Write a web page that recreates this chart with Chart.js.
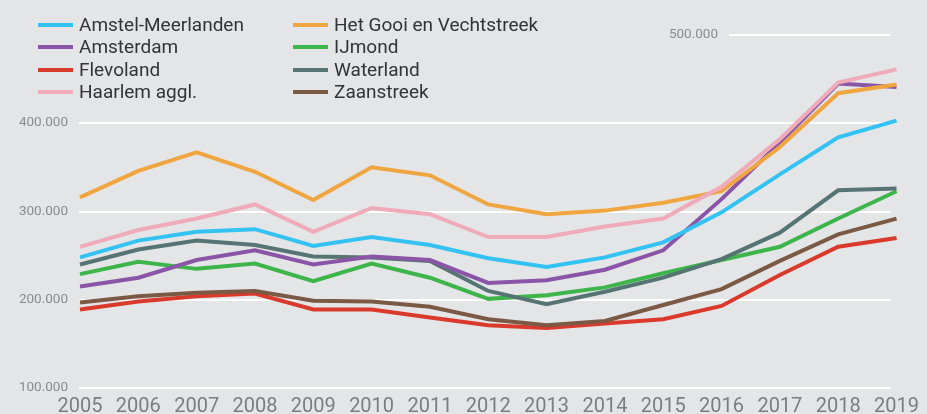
<!DOCTYPE html>
<html>
<head>
<meta charset="utf-8">
<script src="https://cdn.jsdelivr.net/npm/chart.js@4/dist/chart.umd.min.js"></script>
<style>
  html, body { margin: 0; padding: 0; background: #e4e5e7; }
  #wrap { position: relative; width: 927px; height: 414px; }
  #legend { position: absolute; left: 38px; top: 14px; font-family: Roboto, sans-serif; font-size: 19px; color: #333; }
  .col { position: absolute; top: 0; width: 280px; }
  .item { height: 22.4px; line-height: 22.4px; white-space: nowrap; }
  .sw { display: inline-block; width: 35px; height: 4px; vertical-align: middle; margin-right: 6px; position: relative; top: -1px; }
</style>
</head>
<body>
<div id="wrap">
  <canvas id="myChart" width="927" height="414"></canvas>
  <div id="legend"></div>
</div>
<script>
var years = ["2005", "2006", "2007", "2008", "2009", "2010", "2011", "2012", "2013", "2014", "2015", "2016", "2017", "2018", "2019"];
var yTicks = [100000, 200000, 300000, 400000, 500000];

var amstelMeerlanden = [248000, 267000, 277000, 280000, 261000, 271000, 262000, 247000, 237000, 248000, 265000, 299000, 342000, 384000, 403000];
var hetGooi = [316000, 346000, 367000, 345000, 313000, 350000, 341000, 308000, 297000, 301000, 310000, 323000, 373000, 434000, 444000];
var amsterdam = [215000, 225000, 245000, 256000, 240000, 249000, 245000, 219000, 222000, 234000, 256000, 314000, 378000, 445000, 441000];
var ijmond = [229000, 243000, 235000, 241000, 221000, 241000, 225000, 201000, 205000, 214000, 230000, 245000, 260000, 292000, 323000];
var flevoland = [189000, 198000, 204000, 207000, 189000, 189000, 180000, 171000, 168000, 173000, 178000, 193000, 228000, 260000, 270000];
var waterland = [240000, 257000, 267000, 262000, 249000, 248000, 244000, 210000, 195000, 209000, 225000, 246000, 276000, 324000, 326000];
var haarlem = [260000, 279000, 292000, 308000, 277000, 304000, 297000, 271000, 271000, 283000, 292000, 328000, 382000, 446000, 461000];
var zaanstreek = [197000, 204000, 208000, 210000, 199000, 198000, 192000, 178000, 171000, 176000, 194000, 212000, 244000, 274000, 292000];

var series = [
  { label: "Amstel-Meerlanden", data: amstelMeerlanden, color: "#33c2f1" },
  { label: "Amsterdam", data: amsterdam, color: "#8a55a7" },
  { label: "Flevoland", data: flevoland, color: "#da3a2b" },
  { label: "Haarlem aggl.", data: haarlem, color: "#efabb9" },
  { label: "Het Gooi en Vechtstreek", data: hetGooi, color: "#f0a640" },
  { label: "IJmond", data: ijmond, color: "#3db54b" },
  { label: "Waterland", data: waterland, color: "#567473" },
  { label: "Zaanstreek", data: zaanstreek, color: "#7b5a45" }
];

// draw order: back to front like the original
var drawOrder = ["Flevoland", "Zaanstreek", "IJmond", "Waterland", "Amsterdam", "Amstel-Meerlanden", "Het Gooi en Vechtstreek", "Haarlem aggl."];

var gridPlugin = {
  id: "grid",
  beforeDatasetsDraw: function (chart) {
    var ctx = chart.ctx;
    var y = chart.scales.y;
    var left = chart.chartArea.left - 1;
    var right = chart.chartArea.right - 6;
    ctx.save();
    ctx.font = "13.5px Roboto, sans-serif";
    ctx.fillStyle = "#8c8c8c";
    ctx.textAlign = "right";
    ctx.textBaseline = "middle";
    for (var i = 0; i < yTicks.length; i++) {
      var py = Math.round(y.getPixelForValue(yTicks[i]));
      var start = i == yTicks.length - 1 ? 729 : left;
      ctx.strokeStyle = "#ffffff";
      ctx.lineWidth = 2;
      ctx.beginPath();
      ctx.moveTo(start, py);
      ctx.lineTo(right, py);
      ctx.stroke();
      var txt = yTicks[i].toLocaleString("nl-NL");
      ctx.fillText(txt, start - 11, py);
    }
    ctx.restore();
  }
};

var datasets = series.map(function (s) {
  return {
    label: s.label,
    data: s.data,
    borderColor: s.color,
    backgroundColor: s.color,
    borderWidth: 4,
    pointRadius: 0,
    tension: 0,
    order: drawOrder.length - drawOrder.indexOf(s.label)
  };
});

var ctx = document.getElementById("myChart").getContext("2d");
var myChart = new Chart(ctx, {
  type: "line",
  data: { labels: years, datasets: datasets },
  plugins: [gridPlugin],
  options: {
    responsive: false,
    animation: false,
    layout: { padding: { left: 80, right: 24, top: 35, bottom: -12 } },
    plugins: { legend: { display: false }, tooltip: { enabled: false } },
    scales: {
      x: {
        grid: { display: false, drawTicks: false },
        border: { display: false },
        ticks: { color: "#7d7d7d", font: { family: "Roboto", size: 20, lineHeight: 1.1 }, padding: 8, maxRotation: 0, autoSkip: false }
      },
      y: {
        display: false,
        min: 100000,
        max: 500000
      }
    }
  }
});

var legend = document.getElementById("legend");
var html = "";
for (var c = 0; c < 2; c++) {
  html += '<div class="col" style="left:' + (c * 255) + 'px">';
  for (var r = 0; r < 4; r++) {
    var s = series[c * 4 + r];
    html += '<div class="item"><span class="sw" style="background:' + s.color + '"></span>' + s.label + '</div>';
  }
  html += "</div>";
}
legend.innerHTML = html;
</script>
</body>
</html>
